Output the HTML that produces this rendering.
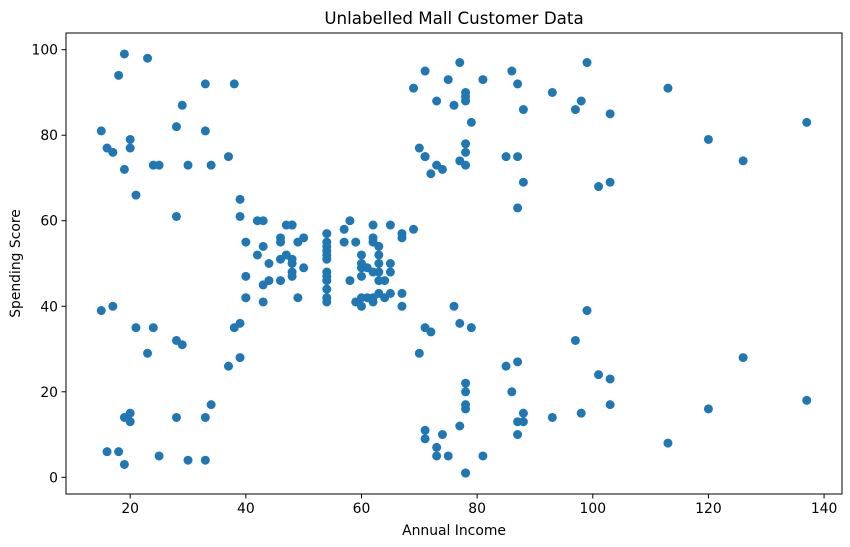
<!DOCTYPE html>
<html><head><meta charset="utf-8"><style>
body{margin:0;background:#fff;}
svg{display:block;font-family:"DejaVu Sans","Liberation Sans",sans-serif;}
</style></head><body>
<svg id="chart" width="850" height="547" xmlns="http://www.w3.org/2000/svg"></svg>
<script>
const income=[15,15,16,16,17,17,18,18,19,19,19,19,20,20,20,20,21,21,23,23,24,24,25,25,28,28,28,28,29,29,30,30,33,33,33,33,34,34,37,37,38,38,39,39,39,39,40,40,40,40,42,42,43,43,43,43,44,44,46,46,46,46,47,47,48,48,48,48,48,48,49,49,50,50,54,54,54,54,54,54,54,54,54,54,54,54,57,57,58,58,59,59,60,60,60,60,60,60,61,61,62,62,62,62,62,62,63,63,63,63,63,63,64,64,65,65,65,65,67,67,67,67,69,69,70,70,71,71,71,71,71,71,72,72,73,73,73,73,74,74,75,75,76,76,77,77,77,77,78,78,78,78,78,78,78,78,78,78,78,78,79,79,81,81,85,85,86,86,87,87,87,87,87,87,88,88,88,88,93,93,97,97,98,98,99,99,101,101,103,103,103,103,113,113,120,120,126,126,137,137];
const score=[39,81,6,77,40,76,6,94,3,72,14,99,15,77,13,79,35,66,29,98,35,73,5,73,14,82,32,61,31,87,4,73,4,92,14,81,17,73,26,75,35,92,36,61,28,65,55,47,42,42,52,60,54,60,45,41,50,46,51,46,56,55,52,59,51,59,50,48,59,47,55,42,49,56,47,54,53,48,52,42,51,55,41,44,57,46,58,55,60,46,55,41,49,40,42,52,47,50,42,49,41,48,59,55,56,42,50,46,43,48,52,54,42,46,48,50,43,59,43,57,56,40,58,91,29,77,35,95,11,75,9,75,34,71,5,88,7,73,10,72,5,93,40,87,12,97,36,74,22,90,17,88,20,76,16,89,1,78,1,73,35,83,5,93,26,75,20,95,27,63,13,75,10,92,13,86,15,69,14,90,32,86,15,88,39,97,24,68,17,85,23,69,8,91,16,79,28,74,18,83];
const xTicks=[20,40,60,80,100,120,140];
const yTicks=[0,20,40,60,80,100];
const L=66,R=842,T=33,B=494;
const xmin=8.9,xmax=143.1,ymin=-3.9,ymax=103.9;
const sx=v=>L+(v-xmin)/(xmax-xmin)*(R-L);
const sy=v=>B-(v-ymin)/(ymax-ymin)*(B-T);
const svg=document.getElementById('chart');
const NS='http://www.w3.org/2000/svg';
function mk(t,a){const e=document.createElementNS(NS,t);for(const k in a)e.setAttribute(k,a[k]);svg.appendChild(e);return e;}
for(let i=0;i<income.length;i++){
  const c=mk('circle',{cx:sx(income[i]),cy:sy(score[i]),r:4.5,fill:'#1f77b4'});
  
  
}
const frame=mk('rect',{x:L,y:T,width:R-L,height:B-T,fill:'none',stroke:'#000','stroke-width':1});


xTicks.forEach(v=>{
  const x=sx(v);
  const t=mk('line',{x1:x,x2:x,y1:B,y2:B+4.5,stroke:'#000'});
  
  
  const l=mk('text',{x:x,y:B+19,'font-size':13.9,'text-anchor':'middle',fill:'#000'});
  l.textContent=v;
  
  
});
yTicks.forEach(v=>{
  const y=sy(v);
  const t=mk('line',{x1:L-4.5,x2:L,y1:y,y2:y,stroke:'#000'});
  
  
  const l=mk('text',{x:L-8,y:y+5,'font-size':13.9,'text-anchor':'end',fill:'#000'});
  l.textContent=v;
  
  
});
const title=mk('text',{x:(L+R)/2,y:24,'font-size':16.7,'text-anchor':'middle',fill:'#000'});
title.textContent='Unlabelled Mall Customer Data';


const xl=mk('text',{x:(L+R)/2,y:535,'font-size':13.9,'text-anchor':'middle',fill:'#000'});
xl.textContent='Annual Income';


const yl=mk('text',{x:0,y:0,'font-size':13.9,'text-anchor':'middle',fill:'#000',transform:'translate(20,'+((T+B)/2)+') rotate(-90)'});
yl.textContent='Spending Score';


</script>
</body></html>
